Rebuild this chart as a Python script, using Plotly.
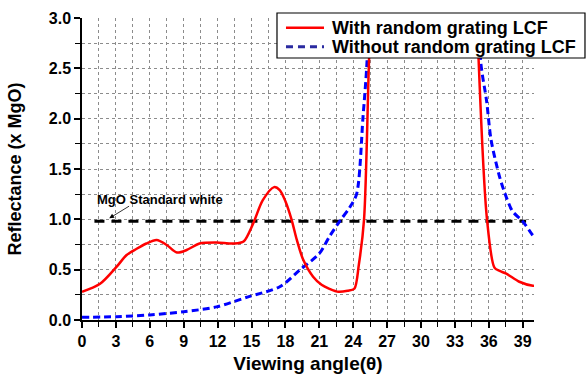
import plotly.graph_objects as go

# Data
red_x = [0, 1.6, 3.07, 3.95, 4.8, 5.7, 6.6, 7.5, 8.4, 9.26, 10.4, 11.9, 13.4, 14.3, 15.15, 16.0, 17.0, 17.5, 18.0, 18.54, 19.0, 19.57, 20.45, 21.2, 21.9, 22.7, 23.5, 24.1, 24.5, 24.96, 25.4, 25.7,
         None,
         34.9, 35.1, 35.84, 36.5, 36.96, 37.55, 38.7, 39.9, 40]
red_y = [0.28, 0.36, 0.53, 0.645, 0.705, 0.76, 0.795, 0.745, 0.67, 0.695, 0.76, 0.77, 0.76, 0.78, 0.96, 1.19, 1.32, 1.29, 1.18, 1.0, 0.8, 0.6, 0.43, 0.35, 0.31, 0.28, 0.29, 0.31, 0.55, 1.0, 2.58, 3.4,
         None,
         3.4, 2.58, 1.0, 0.52, 0.487, 0.46, 0.38, 0.34, 0.34]

blue_x = [0, 3.07, 6.0, 9.0, 11.9, 14.7, 17.5, 19.3, 21.0, 21.9, 22.8, 23.7, 24.3, 24.87, 25.2, 25.45,
          None,
          35.1, 35.3, 35.8, 36.2, 36.96, 37.55, 38.1, 39.0, 39.9, 40]
blue_y = [0.027, 0.033, 0.05, 0.082, 0.13, 0.23, 0.33, 0.5, 0.66, 0.83, 0.98, 1.12, 1.25, 2.02, 2.52, 3.2,
          None,
          3.2, 2.55, 2.18, 1.79, 1.42, 1.22, 1.08, 0.98, 0.84, 0.83]

mgo_x = [1.1, 39.3]
mgo_y = [0.98, 0.98]

series_names = ["With random grating LCF", "Without random grating LCF"]
series_colors = ["#ff0000", "#0000ff"]
legend_colors = ["#ff0000", "#2a2aa0"]
x_title = "Viewing angle(θ)"
y_title = "Reflectance (x MgO)"
annot_text = "MgO Standard white"

FONT = "Liberation Sans, Arial, sans-serif"

fig = go.Figure()

fig.add_trace(go.Scatter(
    x=mgo_x, y=mgo_y, mode="lines", showlegend=False,
    line=dict(color="black", width=3, dash="10px,7px"), hoverinfo="skip"))

fig.add_trace(go.Scatter(
    x=blue_x, y=blue_y, mode="lines", name=series_names[1], showlegend=False, connectgaps=False,
    line=dict(color=series_colors[1], width=3, dash="7px,4px", shape="spline", smoothing=0.8)))

fig.add_trace(go.Scatter(
    x=red_x, y=red_y, mode="lines", name=series_names[0], showlegend=False, connectgaps=False,
    line=dict(color=series_colors[0], width=2.5, shape="spline", smoothing=0.8)))

# Boxed legend (placed in paper coordinates, overlapping the top of the plot)
lg_x0, lg_x1, lg_y0, lg_y1 = 0.4314, 1.1128, 0.8675, 1.0166
row_y = [0.9679, 0.9050]
sw_x0, sw_x1, txt_x = 0.4513, 0.5354, 0.5487
fig.add_shape(type="rect", xref="paper", yref="paper", x0=lg_x0, x1=lg_x1, y0=lg_y0, y1=lg_y1,
              line=dict(color="black", width=1.2), fillcolor="white", layer="above")
fig.add_shape(type="line", xref="paper", yref="paper", x0=sw_x0, x1=sw_x1, y0=row_y[0], y1=row_y[0],
              line=dict(color=legend_colors[0], width=2.5), layer="above")
fig.add_shape(type="line", xref="paper", yref="paper", x0=sw_x0, x1=sw_x1, y0=row_y[1], y1=row_y[1],
              line=dict(color=legend_colors[1], width=3, dash="7px,5px"), layer="above")
for name, yy in zip(series_names, row_y):
    fig.add_annotation(x=txt_x, y=yy, xref="paper", yref="paper", xanchor="left", yanchor="middle",
                       text="<b>" + name + "</b>", showarrow=False,
                       font=dict(family=FONT, size=18, color="black"))

fig.add_annotation(
    x=2.41, y=1.01, ax=4.3, ay=1.14, xref="x", yref="y", axref="x", ayref="y",
    text="", showarrow=True, arrowhead=2, arrowsize=1.2, arrowwidth=0.8, arrowcolor="black")
fig.add_annotation(
    x=6.87, y=1.20, xref="x", yref="y", text="<b>" + annot_text + "</b>", showarrow=False,
    font=dict(family=FONT, size=13, color="black"))

axis_common = dict(
    showline=True, linecolor="black", linewidth=1.5, mirror=False,
    ticks="outside", ticklen=6, tickwidth=1.5, tickcolor="black",
    showgrid=True, gridcolor="#8c8c8c", griddash="dot", gridwidth=1,
    zeroline=False, automargin=False,
    tickfont=dict(family=FONT, size=16, color="black", weight="bold"),
)

fig.update_xaxes(
    range=[0, 40], dtick=3, tick0=0, **axis_common,
    minor=dict(dtick=1.5, tick0=0, ticks="outside", ticklen=5, tickwidth=1.2, tickcolor="black",
               showgrid=True, gridcolor="#8c8c8c", griddash="dot", gridwidth=1),
    title=dict(text="<b>" + x_title + "</b>", font=dict(family=FONT, size=19, color="black"), standoff=8),
)
fig.update_yaxes(
    range=[0, 3], dtick=0.5, tick0=0, tickformat=".1f", **axis_common,
    minor=dict(dtick=0.25, tick0=0, ticks="outside", ticklen=5, tickwidth=1.2, tickcolor="black",
               showgrid=True, gridcolor="#8c8c8c", griddash="dot", gridwidth=1),
    title=dict(text="<b>" + y_title + "</b>", font=dict(family=FONT, size=18, color="black"), standoff=22),
)

fig.update_layout(
    width=586, height=378,
    margin=dict(l=82, r=52, t=18, b=58, autoexpand=False),
    plot_bgcolor="white", paper_bgcolor="white",
    showlegend=False,
    font=dict(family=FONT),
)

fig.write_html("out.html", config={"displayModeBar": False},
               post_script="document.body.style.margin='0';document.body.style.padding='0';")
